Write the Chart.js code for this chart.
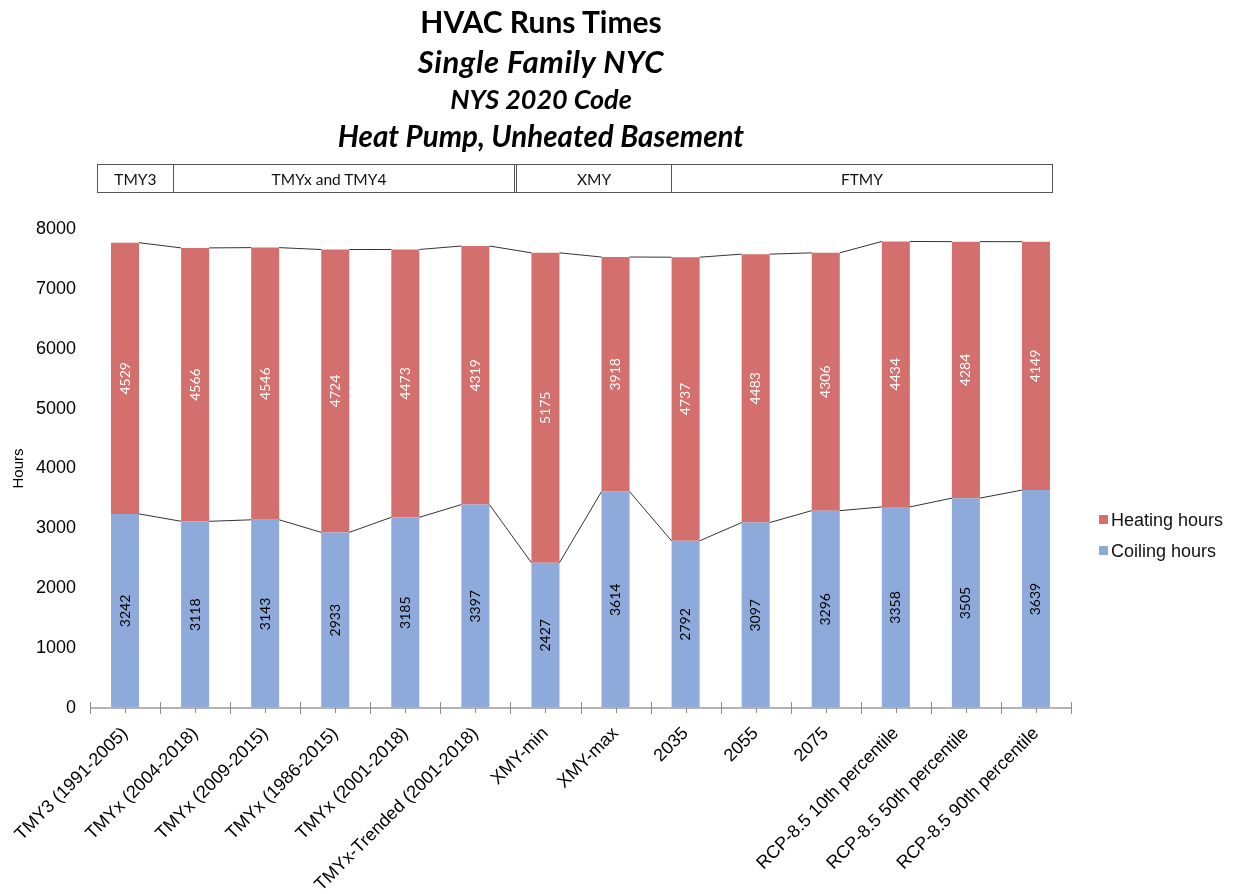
<!DOCTYPE html>
<html>
<head>
<meta charset="utf-8">
<script src="https://cdn.jsdelivr.net/npm/chart.js@4.4.1/dist/chart.umd.min.js"></script>
<style>
  html, body { margin: 0; padding: 0; background: #ffffff; }
  #wrap { position: relative; width: 1235px; height: 894px; overflow: hidden; }
  #chart { position: absolute; left: 0; top: 0; }
  .ttl { position: absolute; left: 241px; width: 600px; text-align: center; font-family: Lato, "Open Sans", sans-serif; font-weight: bold; color: #000; white-space: nowrap; }
  .it { font-style: italic; }
  #groups { position: absolute; left: 97px; top: 164px; height: 29px; display: flex; border: 1px solid #555; box-sizing: border-box; width: 956px; }
  #groups div { box-sizing: border-box; height: 100%; display: flex; align-items: center; justify-content: center; font-family: Lato, "Open Sans", sans-serif; font-size: 15.5px; color: #111; border-left: 1px solid #555; }
  #groups div:first-child { border-left: none; }
  #groups div.dbl { border-left: 3px double #555; }
  .leg { position: absolute; left: 1099px; font-family: "Liberation Sans", Arial, sans-serif; font-size: 18px; line-height: 20px; color: #111; white-space: nowrap; }
  .leg span { display: inline-block; width: 9px; height: 9px; margin-right: 3px; vertical-align: 2px; }
</style>
</head>
<body>
<div id="wrap">
  <canvas id="chart" width="1235" height="894"></canvas>
  <div class="ttl" style="top:6px;font-size:30px;line-height:30px;">HVAC Runs Times</div>
  <div class="ttl it" style="top:46px;font-size:31px;line-height:31px;letter-spacing:0.6px;">Single Family NYC</div>
  <div class="ttl it" style="top:85px;font-size:27px;line-height:27px;">NYS 2020 Code</div>
  <div class="ttl it" style="top:121px;font-size:29.5px;line-height:29.5px;">Heat Pump, Unheated Basement</div>
  <div id="groups">
    <div style="width:75px;">TMY3</div>
    <div style="width:342px;padding-right:30px;">TMYx and TMY4</div>
    <div class="dbl" style="width:157px;">XMY</div>
    <div style="width:382px;">FTMY</div>
  </div>
  <div class="leg" style="top:510px;"><span style="background:#D36F6C"></span>Heating hours</div>
  <div class="leg" style="top:541px;"><span style="background:#8EAADB"></span>Coiling hours</div>
</div>
<script>
// Weather file scenarios
const categories = [
  'TMY3 (1991-2005)', 'TMYx (2004-2018)', 'TMYx (2009-2015)', 'TMYx (1986-2015)',
  'TMYx (2001-2018)', 'TMYx-Trended (2001-2018)', 'XMY-min', 'XMY-max',
  '2035', '2055', '2075',
  'RCP-8.5 10th percentile', 'RCP-8.5 50th percentile', 'RCP-8.5 90th percentile'
];
// Annual run hours
const coolingHours = [3242, 3118, 3143, 2933, 3185, 3397, 2427, 3614, 2792, 3097, 3296, 3358, 3505, 3639];
const heatingHours = [4529, 4566, 4546, 4724, 4473, 4319, 5175, 3918, 4737, 4483, 4306, 4434, 4284, 4149];
const yTicks = [0, 1000, 2000, 3000, 4000, 5000, 6000, 7000, 8000];

const COOL = '#8EAADB';
const HEAT = '#D36F6C';

// Series lines joining stacked segment tops, segment value labels, category axis
const stackDecor = {
  id: 'stackDecor',
  afterDatasetsDraw(chart) {
    const ctx = chart.ctx;
    const x = chart.scales.x, y = chart.scales.y;
    const mCool = chart.getDatasetMeta(0), mHeat = chart.getDatasetMeta(1);

    // series lines
    ctx.save();
    ctx.strokeStyle = '#333';
    ctx.lineWidth = 1;
    for (let i = 0; i < categories.length - 1; i++) {
      const a = mCool.data[i], b = mCool.data[i + 1];
      const levelsA = [coolingHours[i], coolingHours[i] + heatingHours[i]];
      const levelsB = [coolingHours[i + 1], coolingHours[i + 1] + heatingHours[i + 1]];
      for (let k = 0; k < 2; k++) {
        ctx.beginPath();
        ctx.moveTo(a.x + a.width / 2, y.getPixelForValue(levelsA[k]));
        ctx.lineTo(b.x - b.width / 2, y.getPixelForValue(levelsB[k]));
        ctx.stroke();
      }
    }
    ctx.restore();

    // value labels, rotated
    ctx.save();
    ctx.font = '14px Lato, "Open Sans", sans-serif';
    ctx.textAlign = 'center';
    ctx.textBaseline = 'middle';
    for (let i = 0; i < categories.length; i++) {
      const c = mCool.data[i], h = mHeat.data[i];
      const cy = (y.getPixelForValue(0) + y.getPixelForValue(coolingHours[i])) / 2;
      const hy = (y.getPixelForValue(coolingHours[i]) + y.getPixelForValue(coolingHours[i] + heatingHours[i])) / 2;
      [[c.x, cy, coolingHours[i], '#000'], [h.x, hy, heatingHours[i], '#fff']].forEach(([px, py, v, col]) => {
        ctx.save();
        ctx.translate(px, py);
        ctx.rotate(-Math.PI / 2);
        ctx.fillStyle = col;
        ctx.fillText(String(v), 0, 0);
        ctx.restore();
      });
    }
    ctx.restore();

    // category axis line with boundary and centre ticks
    ctx.save();
    const base = y.getPixelForValue(0);
    ctx.strokeStyle = '#b4b4b4';
    ctx.lineWidth = 2;
    ctx.beginPath();
    ctx.moveTo(chart.chartArea.left, base);
    ctx.lineTo(chart.chartArea.right, base);
    ctx.stroke();
    ctx.strokeStyle = '#8c8c8c';
    ctx.lineWidth = 1;
    const step = x.getPixelForValue(1) - x.getPixelForValue(0);
    for (let i = 0; i <= categories.length; i++) {
      const bx = Math.round(x.getPixelForValue(i) - step / 2) + 0.5;
      ctx.beginPath();
      ctx.moveTo(bx, base - 6);
      ctx.lineTo(bx, base + 6);
      ctx.stroke();
    }
    for (let i = 0; i < categories.length; i++) {
      const cx = Math.round(x.getPixelForValue(i)) + 0.5;
      ctx.beginPath();
      ctx.moveTo(cx, base);
      ctx.lineTo(cx, base + 5);
      ctx.stroke();
    }
    ctx.restore();
  }
};

new Chart(document.getElementById('chart'), {
  type: 'bar',
  data: {
    labels: categories,
    datasets: [
      { label: 'Coiling hours', data: coolingHours, backgroundColor: COOL, borderWidth: 0 },
      { label: 'Heating hours', data: heatingHours, backgroundColor: HEAT, borderWidth: 0 }
    ]
  },
  options: {
    responsive: false,
    animation: false,
    devicePixelRatio: 1,
    categoryPercentage: 1,
    barPercentage: 0.4,
    layout: { padding: { top: 229, right: 164, left: 0, bottom: 0 } },
    plugins: {
      legend: { display: false },
      title: { display: false },
      tooltip: { enabled: false }
    },
    scales: {
      x: {
        stacked: true,
        grid: { display: false },
        border: { display: false },
        ticks: {
          autoSkip: false,
          maxRotation: 45,
          minRotation: 45,
          padding: 7,
          color: '#000',
          font: { family: '"Liberation Sans", Arial, sans-serif', size: 18 }
        },
        afterFit(scale) { scale.height = 186; }
      },
      y: {
        stacked: true,
        min: 0,
        max: 8000,
        afterBuildTicks(scale) { scale.ticks = yTicks.map(v => ({ value: v })); },
        grid: { display: false, drawTicks: false },
        border: { display: false },
        ticks: {
          padding: 14,
          color: '#000',
          callback: (v) => String(v),
          font: { family: '"Liberation Sans", Arial, sans-serif', size: 18 }
        },
        title: {
          display: true,
          text: 'Hours',
          color: '#000',
          padding: { top: 10, bottom: 0 },
          font: { family: '"Liberation Sans", Arial, sans-serif', size: 15 }
        },
        afterFit(scale) { scale.width = 90; }
      }
    }
  },
  plugins: [stackDecor]
});
</script>
</body>
</html>
